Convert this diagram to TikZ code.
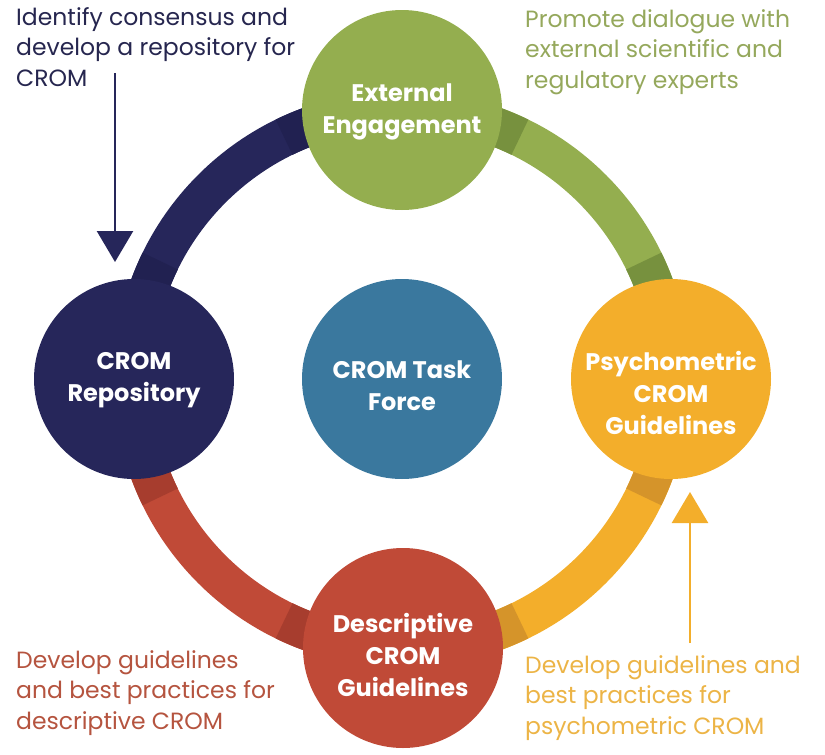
\documentclass[tikz,border=0pt]{standalone}
\usepackage{fontspec}
\setmainfont{Poppins}
\usetikzlibrary{arrows.meta,calc}
\definecolor{navy}{HTML}{26265A}
\definecolor{navyd}{HTML}{212151}
\definecolor{olive}{HTML}{94AE4F}
\definecolor{olived}{HTML}{77913E}
\definecolor{amber}{HTML}{F3AE2B}
\definecolor{amberd}{HTML}{D5942A}
\definecolor{brick}{HTML}{C04A37}
\definecolor{brickd}{HTML}{A73D2E}
\definecolor{taskblue}{HTML}{3A789E}
\definecolor{navytext}{HTML}{26264F}
\definecolor{olivetext}{HTML}{95A85C}
\definecolor{bricktext}{HTML}{B5543F}
\definecolor{ambertext}{HTML}{ECB446}
\begin{document}
\begin{tikzpicture}[x=1pt,y=-1pt,
  hub/.style={circle, minimum size=200pt, inner sep=0pt},
  hubtext/.style={text=white, font=\bfseries\fontsize{24}{32}\selectfont, align=center, inner sep=0pt},
  desc/.style={font=\fontsize{23.5}{30.5}\selectfont, align=left, inner sep=0pt, anchor=north west},
  band/.style={line width=39pt},
  pointer/.style={-{Triangle[width=36pt,length=31pt]}, line width=2.5pt}]
\useasboundingbox (0,0) rectangle (825,755);
\coordinate (C) at (402,379);
% ring bands
\draw[band,navy] ($(C)+(180:269pt)$) arc[start angle=180,end angle=90,radius=269pt];
\draw[band,navyd] ($(C)+(180:269pt)$) arc[start angle=180,end angle=154,radius=269pt];
\draw[band,navyd] ($(C)+(116:269pt)$) arc[start angle=116,end angle=90,radius=269pt];
\draw[band,olive] ($(C)+(90:269pt)$) arc[start angle=90,end angle=0,radius=269pt];
\draw[band,olived] ($(C)+(90:269pt)$) arc[start angle=90,end angle=64,radius=269pt];
\draw[band,olived] ($(C)+(26:269pt)$) arc[start angle=26,end angle=0,radius=269pt];
\draw[band,amber] ($(C)+(0:269pt)$) arc[start angle=0,end angle=-90,radius=269pt];
\draw[band,amberd] ($(C)+(0:269pt)$) arc[start angle=0,end angle=-26,radius=269pt];
\draw[band,amberd] ($(C)+(-64:269pt)$) arc[start angle=-64,end angle=-90,radius=269pt];
\draw[band,brick] ($(C)+(-90:269pt)$) arc[start angle=-90,end angle=-180,radius=269pt];
\draw[band,brickd] ($(C)+(-90:269pt)$) arc[start angle=-90,end angle=-116,radius=269pt];
\draw[band,brickd] ($(C)+(-154:269pt)$) arc[start angle=-154,end angle=-180,radius=269pt];
% hubs
\node[hub, fill=olive] (ext) at (402,110) {};
\node[hub, fill=navy] (repo) at (134,379) {};
\node[hub, fill=amber] (psy) at (671,379) {};
\node[hub, fill=brick] (descr) at (403,648) {};
\node[hub, fill=taskblue] (task) at (402,379) {};
\node[hubtext] (extT) at (402,112) {External\\Engagement};
\node[hubtext] (repoT) at (134,380) {CROM\\Repository};
\node[hubtext] (psyT) at (671,393) {Psychometric\\CROM\\Guidelines};
\node[hubtext] (descrT) at (403,655) {Descriptive\\CROM\\Guidelines};
\node[hubtext] (taskT) at (402,386) {CROM Task\\Force};
% descriptions
\node[desc, text=navytext] (d1) at (16,7) {Identify consensus and\\develop a repository for\\CROM};
\node[desc, text=olivetext] (d2) at (525,9) {Promote dialogue with\\external scientific and\\regulatory experts};
\node[desc, text=bricktext] (d3) at (16,650) {Develop guidelines\\and best practices for\\descriptive CROM};
\node[desc, text=ambertext] (d4) at (525,655) {Develop guidelines and\\best practices for\\psychometric CROM};
% pointers
\coordinate (a1s) at (115,73);
\coordinate (a1e) at (115,262);
\draw[pointer, navy] (a1s) -- (a1e);
\coordinate (a2s) at (690,643);
\coordinate (a2e) at (690,492);
\draw[pointer, amber] (a2s) -- (a2e);
\end{tikzpicture}
\end{document}
